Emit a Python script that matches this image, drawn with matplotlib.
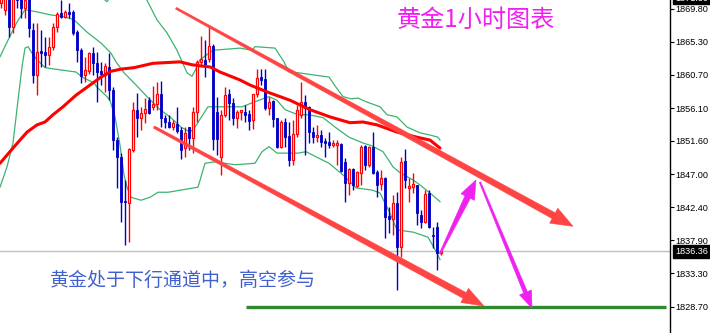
import numpy as np
import matplotlib
matplotlib.use("Agg")
import matplotlib.pyplot as plt
from matplotlib.patches import Polygon

plt.rcParams['font.family'] = ['Noto Sans CJK SC', 'DejaVu Sans']

# hourly gold candles
opens = [1870.6, 1869.7, 1872.1, 1867.3, 1872.7, 1871.7, 1869.9, 1871.7, 1866.9, 1860.7,
         1864.0, 1863.9, 1863.5, 1864.6, 1867.3, 1869.3, 1868.7, 1869.4, 1869.4, 1866.6,
         1864.1, 1860.7, 1861.2, 1863.7, 1862.3, 1861.2, 1860.7, 1861.8, 1858.6, 1851.7,
         1849.4, 1843.3, 1843.0, 1850.3, 1855.9, 1854.8, 1855.4, 1857.2, 1856.3, 1856.7,
         1858.1, 1854.8, 1854.2, 1853.5, 1853.9, 1853.1, 1850.6, 1853.5, 1852.0, 1855.6,
         1862.5, 1862.8, 1862.9, 1864.7, 1855.6, 1849.4, 1855.2, 1858.1, 1856.8, 1854.8,
         1855.6, 1855.6, 1855.3, 1854.5, 1858.1, 1860.4, 1860.1, 1856.1, 1857.1, 1854.8,
         1850.8, 1854.2, 1852.3, 1849.0, 1852.5, 1855.2, 1857.0, 1856.3, 1852.8, 1852.1,
         1852.4, 1851.6, 1851.4, 1851.0, 1851.0, 1851.2, 1848.7, 1845.8, 1847.7, 1845.4,
         1847.2, 1850.9, 1848.3, 1850.8, 1847.3, 1845.6, 1846.5, 1841.2, 1840.8, 1843.0,
         1837.0, 1848.8, 1845.1, 1845.2, 1845.5, 1841.4, 1840.4, 1844.4, 1838.6, 1839.7,
         1836.1]
highs = [1873.1, 1873.1, 1872.5, 1872.4, 1873.0, 1872.2, 1871.8, 1872.4, 1867.9, 1867.9,
         1866.9, 1865.9, 1865.9, 1867.9, 1869.4, 1871.0, 1869.7, 1870.6, 1869.7, 1866.9,
         1864.4, 1863.2, 1863.9, 1864.6, 1863.9, 1862.5, 1862.3, 1863.7, 1859.0, 1852.1,
         1849.9, 1846.2, 1850.6, 1857.0, 1858.2, 1856.3, 1857.5, 1857.7, 1859.2, 1859.7,
         1859.9, 1855.2, 1855.2, 1854.5, 1856.3, 1853.5, 1853.5, 1853.5, 1856.3, 1862.8,
         1866.1, 1865.5, 1867.6, 1865.0, 1857.7, 1855.9, 1859.0, 1858.8, 1857.5, 1855.9,
         1855.9, 1856.6, 1855.9, 1858.1, 1861.5, 1861.5, 1861.5, 1857.7, 1857.2, 1854.8,
         1854.5, 1854.8, 1854.2, 1854.5, 1856.6, 1859.7, 1857.9, 1856.4, 1853.5, 1853.8,
         1853.1, 1852.0, 1852.8, 1851.7, 1851.7, 1851.3, 1849.2, 1847.9, 1847.9, 1847.4,
         1851.0, 1851.0, 1850.9, 1852.8, 1847.6, 1847.6, 1846.6, 1842.5, 1844.1, 1844.5,
         1849.4, 1850.5, 1846.5, 1847.2, 1845.5, 1842.1, 1844.8, 1844.8, 1839.7, 1840.4,
         1836.5]
lows = [1869.9, 1869.0, 1865.9, 1866.5, 1869.9, 1868.6, 1868.6, 1865.9, 1859.6, 1857.9,
        1861.8, 1861.8, 1862.1, 1864.1, 1866.6, 1868.6, 1868.6, 1868.6, 1866.2, 1862.5,
        1859.6, 1859.7, 1860.8, 1860.7, 1857.0, 1859.3, 1858.3, 1857.2, 1850.3, 1845.1,
        1840.4, 1837.2, 1837.6, 1850.1, 1852.1, 1853.1, 1854.1, 1855.3, 1855.9, 1855.9,
        1853.5, 1853.4, 1853.4, 1853.1, 1852.7, 1849.1, 1849.4, 1850.3, 1849.9, 1854.2,
        1862.1, 1860.4, 1862.5, 1850.3, 1849.6, 1846.9, 1854.9, 1854.5, 1853.8, 1853.4,
        1854.5, 1854.2, 1853.1, 1853.2, 1857.7, 1859.3, 1855.9, 1855.2, 1853.5, 1850.6,
        1850.6, 1850.8, 1848.1, 1848.3, 1852.1, 1854.8, 1849.6, 1851.3, 1851.3, 1851.4,
        1850.8, 1849.4, 1850.6, 1850.8, 1848.3, 1847.3, 1843.2, 1844.1, 1844.8, 1845.2,
        1845.5, 1847.6, 1848.0, 1847.0, 1843.9, 1844.8, 1838.2, 1838.9, 1838.6, 1831.0,
        1835.6, 1845.1, 1843.2, 1844.4, 1840.0, 1839.6, 1840.3, 1839.6, 1836.8, 1833.8,
        1835.9]
closes = [1872.4, 1871.7, 1867.3, 1871.7, 1871.0, 1869.9, 1871.0, 1867.2, 1860.7, 1863.9,
          1863.7, 1863.5, 1864.6, 1867.3, 1869.1, 1868.7, 1869.4, 1869.1, 1866.5, 1864.1,
          1860.6, 1861.4, 1863.7, 1862.3, 1861.1, 1860.8, 1861.9, 1858.6, 1851.7, 1849.4,
          1843.2, 1843.2, 1850.5, 1855.9, 1854.8, 1855.4, 1856.0, 1855.4, 1856.7, 1858.1,
          1854.8, 1854.2, 1853.5, 1854.1, 1853.0, 1850.3, 1852.7, 1852.0, 1855.6, 1862.5,
          1862.9, 1861.9, 1864.7, 1851.9, 1851.9, 1855.2, 1857.9, 1856.8, 1854.8, 1855.6,
          1855.9, 1855.2, 1854.3, 1858.1, 1860.3, 1860.0, 1856.1, 1857.0, 1854.6, 1850.8,
          1854.2, 1852.1, 1849.0, 1852.5, 1855.9, 1857.0, 1856.1, 1852.8, 1852.1, 1852.4,
          1851.4, 1851.3, 1851.0, 1851.3, 1851.3, 1847.4, 1845.8, 1847.7, 1845.5, 1847.3,
          1850.8, 1848.3, 1850.8, 1847.2, 1845.5, 1846.5, 1841.1, 1840.8, 1843.0, 1837.0,
          1848.7, 1846.2, 1845.4, 1845.6, 1841.6, 1840.4, 1844.3, 1839.7, 1838.5, 1836.1,
          1836.36]

# moving average and bollinger bands, sampled along the chart (bar index, price)
ma_x = [-0.25, 3, 6.5, 9, 11, 13, 15.5, 18.75, 21.5, 25, 27.5, 30, 33.25, 38, 44.75,
        47.75, 50.5, 52.25, 54.75, 59.75, 62.25, 67.25, 72.25, 77.25, 82.25, 87.25,
        90.5, 94, 99, 104, 107.25, 109.75]
ma_y = [1848.5, 1850.6, 1852.8, 1853.8, 1854.2, 1855.2, 1856.3, 1857.9, 1859.0, 1860.4,
        1861.2, 1861.5, 1861.7, 1862.3, 1862.5, 1862.1, 1861.9, 1861.8, 1861.1, 1860.0,
        1859.3, 1858.2, 1857.2, 1855.9, 1854.9, 1854.1, 1854.2, 1853.8, 1852.8, 1852.1,
        1851.7, 1850.6]

bb_up_x = [-0.25, 3, 6, 9, 12.25, 18.75, 24, 26.5, 27.5, 29.75, 31.5, 34.75, 36.5, 39,
           41.5, 44, 46.5, 47.75, 49, 49.75, 53, 59.75, 62.75, 63.5, 68.5, 70.75, 72,
           74.25, 82, 83.75, 85.5, 87.5, 89.25, 91.25, 94.75, 96.5, 99, 101.5, 104.75,
           107.25, 109.25, 109.75]
bb_up_y = [1881.1, 1880.8, 1874.9, 1876.0, 1876.0, 1874.9, 1872.0, 1870.8, 1871.6, 1873.5,
           1875.3, 1873.5, 1871.0, 1868.3, 1866.5, 1864.1, 1861.0, 1860.5, 1861.8, 1862.8,
           1864.1, 1864.4, 1864.1, 1864.6, 1864.4, 1862.5, 1861.1, 1861.0, 1860.4, 1859.0,
           1857.7, 1857.4, 1857.5, 1857.0, 1856.3, 1855.2, 1854.9, 1853.5, 1852.7, 1852.4,
           1852.1, 1851.7]

bb_mid_x = [-0.25, 1.75, 4, 6, 9, 12.25, 16, 18.25, 21.5, 25, 27.5, 29, 30.75, 33.25,
            36.5, 39.75, 42.25, 45, 47.25, 48.5, 50, 51.75, 55.75, 60.25, 63.5, 67, 69,
            71, 74.25, 77, 80.5, 83.75, 87, 90.5, 92.75, 95.5, 98, 99.75, 103, 104.75,
            107.25, 109.75]
bb_mid_y = [1863.2, 1865.5, 1868.0, 1869.7, 1869.4, 1869.0, 1868.7, 1868.3, 1866.6, 1865.1,
            1863.7, 1862.3, 1861.0, 1859.6, 1857.7, 1855.9, 1854.9, 1853.5, 1852.8, 1853.5,
            1854.8, 1856.3, 1856.3, 1856.3, 1857.0, 1857.7, 1857.2, 1855.9, 1855.2, 1855.2,
            1854.8, 1853.4, 1852.1, 1851.3, 1850.9, 1850.1, 1848.0, 1847.2, 1846.2, 1845.5,
            1844.4, 1843.2]

bb_low_x = [-0.25, 1.5, 3, 4.25, 5.25, 6, 6.75, 7.75, 9, 11, 14.75, 18.75, 20.25, 23.25,
            24, 26.5, 27.25, 28.5, 29.75, 30.75, 31.5, 32.5, 35, 37.25, 39.25, 41.75, 45,
            49.25, 51, 53.5, 58.5, 63.5, 65.25, 67, 69, 74.25, 76.25, 78.75, 82, 85.5,
            88.75, 92.75, 94.75, 97.25, 99, 103, 106.75, 109, 109.75]
bb_low_y = [1845.2, 1848.0, 1851.3, 1857.2, 1861.8, 1864.4, 1864.6, 1863.7, 1862.8, 1861.7,
            1861.4, 1861.1, 1860.4, 1859.6, 1859.0, 1857.7, 1857.2, 1854.9, 1851.0, 1846.9,
            1845.2, 1843.8, 1843.4, 1843.8, 1844.5, 1844.5, 1844.8, 1845.2, 1848.5, 1848.7,
            1848.3, 1848.5, 1850.1, 1850.8, 1849.9, 1849.9, 1850.1, 1849.4, 1848.5, 1846.9,
            1845.1, 1844.8, 1844.4, 1841.6, 1839.3, 1839.0, 1838.3, 1836.1, 1835.2]

# drawn objects: (bar index, price) start -> end
channel_upper = [(43.75, 1869.9), (143.0, 1839.8)]
channel_lower = [(38.25, 1853.5), (120.75, 1828.8)]
path_up = [(109.75, 1836.0), (118.75, 1846.2)]
path_down = [(119.75, 1845.9), (132.75, 1828.5)]
support_level = 1828.70
support_span = (61.25, 166.25)
last_price = 1836.36
top_price_label = "1871.30"

price_ticks = [1828.70, 1833.30, 1837.90, 1842.40, 1847.00, 1851.60, 1856.10,
               1860.70, 1865.30, 1869.80]

title_text = "黄金1小时图表"
note_text = "黄金处于下行通道中，高空参与"


def taper_arrow(ax, p0, p1, w0, w1, head_w, head_l, color, z=6):
    """Arrow whose shaft widens from w0 to w1 pixels, drawn in pixel space."""
    t = ax.transData
    a = np.array(t.transform(p0))
    b = np.array(t.transform(p1))
    d = b - a
    u = d / np.hypot(*d)
    n = np.array([-u[1], u[0]])
    base = b - u * head_l
    pts = [a + n * w0 / 2, base + n * w1 / 2, base + n * head_w / 2, b,
           base - n * head_w / 2, base - n * w1 / 2, a - n * w0 / 2]
    pts = t.inverted().transform(pts)
    ax.add_patch(Polygon(pts, closed=True, fc=color, ec=color, lw=0.4, zorder=z))


fig = plt.figure(figsize=(7.1, 3.33), dpi=100)
ax = fig.add_axes([0, 0, 670 / 710, 1])
ax.set_xlim(-0.25, 167.25)
ax.set_ylim(1825.07, 1871.04)

o = np.array(opens)
h = np.array(highs)
l = np.array(lows)
c = np.array(closes)
x = np.arange(len(o))
up = c >= o

ax.axhline(last_price, color="#c0c0c0", lw=1, zorder=1)

# bollinger bands + MA
for bx, by in [(bb_up_x, bb_up_y), (bb_mid_x, bb_mid_y), (bb_low_x, bb_low_y)]:
    ax.plot(bx, by, color="#3cb371", lw=0.9, zorder=2)

# candles
ax.vlines(x[up], l[up], h[up], color="#ff0000", lw=1, zorder=3)
ax.vlines(x[~up], l[~up], h[~up], color="#0000c8", lw=1, zorder=3)
min_body = 0.12
ax.bar(x[up], np.maximum(c[up] - o[up], min_body), bottom=o[up], width=0.58,
       facecolor="white", edgecolor="#ff0000", lw=0.9, zorder=4)
ax.bar(x[~up], np.maximum(o[~up] - c[~up], min_body), bottom=c[~up], width=0.7,
       facecolor="#0000c8", edgecolor="#0000c8", lw=0.6, zorder=4)

ax.plot(ma_x, ma_y, color="#ff0000", lw=2.2, zorder=5, solid_capstyle="round")

# support line
ax.hlines(support_level, *support_span, color="#2f8a2f", lw=2.4, zorder=5)

# channel and path arrows
taper_arrow(ax, *channel_upper, 2.0, 6.5, 17, 22, "#ff4444")
taper_arrow(ax, *channel_lower, 2.5, 6.5, 16, 22, "#ff4444")
taper_arrow(ax, *path_up, 1.5, 6.0, 15, 19, "#f020f0", z=7)
taper_arrow(ax, *path_down, 1.5, 4.0, 13, 17, "#f020f0", z=7)

# texts
ax.text(397 / 670, 1 - 20 / 333, title_text, transform=ax.transAxes, ha="left",
        va="center", fontsize=17.4, color="#f020f0")
ax.text(50 / 670, 1 - 280 / 333, note_text, transform=ax.transAxes, ha="left",
        va="center", fontsize=13.7, color="#4060d0")

# price axis on the right
for side in ["left", "top", "bottom"]:
    ax.spines[side].set_visible(False)
ax.spines["right"].set_color("black")
ax.spines["right"].set_linewidth(1)
ax.set_xticks([])
ax.yaxis.tick_right()
ax.set_yticks(price_ticks)
ax.set_yticklabels([f"{v:.2f}" for v in price_ticks])
ax.tick_params(axis="y", direction="out", length=3, width=0.8, pad=1.0,
               labelsize=6.6, colors="black")
for lab in ax.get_yticklabels():
    lab.set_fontfamily("Liberation Sans")

ax.annotate(f"{last_price:.2f}", xy=(1.0, last_price), xycoords=("axes fraction", "data"),
            xytext=(3.5, 0), textcoords="offset points", ha="left", va="center",
            fontsize=6.6, family="Liberation Sans", color="white", annotation_clip=False,
            bbox=dict(boxstyle="square,pad=0.2", fc="black", ec="black"))
# the top price tag is partly cut by the top edge, as in the source screenshot
ax.annotate(top_price_label, xy=(1.0, 1871.3), xycoords=("axes fraction", "data"),
            xytext=(3.5, 0), textcoords="offset points", ha="left", va="center",
            fontsize=6.6, family="Liberation Sans", color="white", annotation_clip=False,
            bbox=dict(boxstyle="square,pad=0.2", fc="black", ec="black"))

fig.savefig("out.png", dpi=100, facecolor="white")
